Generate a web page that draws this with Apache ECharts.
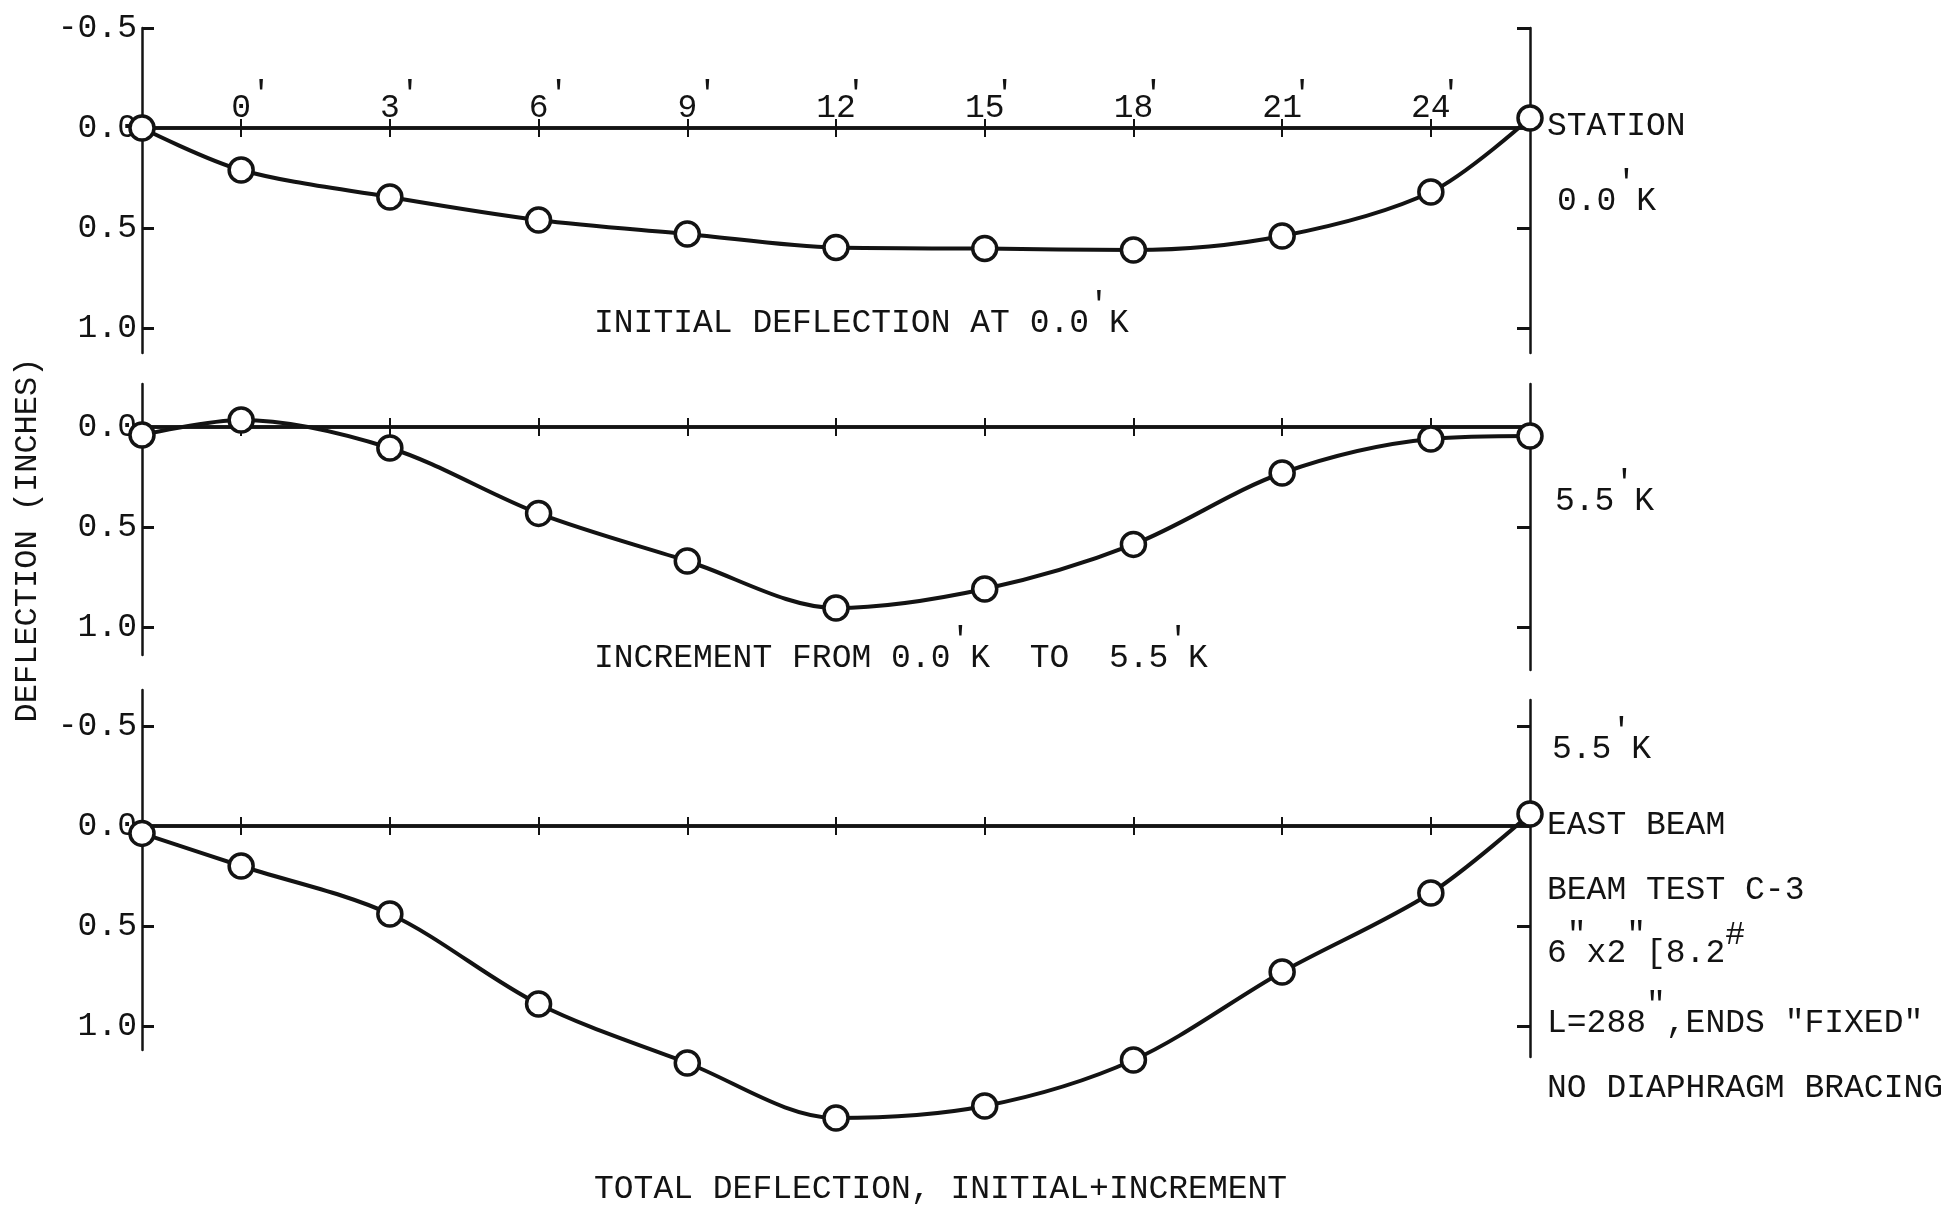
<!DOCTYPE html>
<html><head><meta charset="utf-8">
<script src="https://cdn.jsdelivr.net/npm/echarts@6/dist/echarts.min.js"></script>
<style>html,body{margin:0;padding:0;background:#fff}#c{width:1957px;height:1206px}</style>
</head><body><div id="c"></div>
<script>
// ---------- data ----------
const stations = [-2, 0, 3, 6, 9, 12, 15, 18, 21, 24, 26];   // ft (ends at the supports)
const stationTicks = [0, 3, 6, 9, 12, 15, 18, 21, 24];
const initialDefl   = [0.0, 0.21, 0.345, 0.46, 0.53, 0.598, 0.603, 0.61, 0.54, 0.32, -0.05];
const incrementDefl = [0.04, -0.035, 0.105, 0.432, 0.67, 0.905, 0.81, 0.587, 0.23, 0.06, 0.045];
const totalDefl     = [0.037, 0.20, 0.44, 0.89, 1.185, 1.46, 1.40, 1.17, 0.73, 0.335, -0.06];
const leftTicks1 = [-0.5, 0, 0.5, 1.0];
const leftTicks2 = [0, 0.5, 1.0];
const leftTicks3 = [-0.5, 0, 0.5, 1.0];
const rightTicks1 = [-0.5, 0.5, 1.0];
const rightTicks2 = [0.5, 1.0];
const rightTicks3 = [-0.5, 0.5, 1.0];

// ---------- layout / style ----------
const FONT = '"Liberation Mono", "DejaVu Sans Mono", monospace';
const FS = 33;
const INK = '#131313';
const PX = 200;          // pixels per inch of deflection
const GL = 142, GW = 1388;
const panels = [
  {data: initialDefl,   zeroY: 128, left: [-0.5, 1.125],  right: [-0.5, 1.125],  lt: leftTicks1, rt: rightTicks1, showX: true},
  {data: incrementDefl, zeroY: 427, left: [-0.215, 1.14], right: [-0.215, 1.215], lt: leftTicks2, rt: rightTicks2, showX: false},
  {data: totalDefl,     zeroY: 826, left: [-0.68, 1.12],  right: [-0.63, 1.155], lt: leftTicks3, rt: rightTicks3, showX: false}
];

function sup(s) { // '^' marks the next char as raised (typewriter prime)
  let out = '', buf = '';
  for (let i = 0; i < s.length; i++) {
    if (s[i] === '^') { if (buf) { out += '{n|' + buf + '}'; buf = ''; } out += '{p|' + s[i + 1] + '}'; i++; }
    else buf += s[i];
  }
  if (buf) out += '{n|' + buf + '}';
  return out;
}
const richG = {
  n: {fontFamily: FONT, fontSize: FS, lineHeight: 68, verticalAlign: 'middle', fill: INK},
  p: {fontFamily: FONT, fontSize: FS, lineHeight: 32, verticalAlign: 'top', fill: INK}
};

const grid = [], xAxis = [], yAxis = [], series = [];
panels.forEach((p, i) => {
  const gl = grid.length, gr = gl + 1;
  grid.push({left: GL, width: GW, top: p.zeroY + PX * p.left[0], height: PX * (p.left[1] - p.left[0]),
    containLabel: false, outerBoundsMode: 'none'});
  grid.push({left: GL, width: GW, top: p.zeroY + PX * p.right[0], height: PX * (p.right[1] - p.right[0]),
    containLabel: false, outerBoundsMode: 'none'});
  const yl = yAxis.length;
  yAxis.push({
    type: 'value', gridIndex: gl, inverse: true, min: p.left[0], max: p.left[1], position: 'left',
    axisLine: {show: true, onZero: false, lineStyle: {color: INK, width: 2.5}},
    axisTick: {show: true, inside: true, length: 12, customValues: p.lt, lineStyle: {color: INK, width: 3}},
    axisLabel: {show: true, customValues: p.lt, margin: 5, formatter: v => v.toFixed(1),
      fontFamily: FONT, fontSize: FS, color: INK, padding: [0, 0, 10, 0]},
    splitLine: {show: false}
  });
  yAxis.push({
    type: 'value', gridIndex: gr, inverse: true, min: p.right[0], max: p.right[1], position: 'right',
    axisLine: {show: true, onZero: false, lineStyle: {color: INK, width: 2.5}},
    axisTick: {show: true, inside: true, length: 13, customValues: p.rt, lineStyle: {color: INK, width: 3}},
    axisLabel: {show: false}, splitLine: {show: false}
  });
  const xi = xAxis.length;
  // baseline (zero line) with upward ticks
  xAxis.push({
    type: 'value', gridIndex: gl, min: -2, max: 26, position: 'top',
    axisLine: {show: true, onZero: true, onZeroAxisIndex: yl, lineStyle: {color: INK, width: 3.5}},
    axisTick: {show: true, inside: false, length: 9, customValues: stationTicks, lineStyle: {color: INK, width: 2}},
    axisLabel: {show: false}, splitLine: {show: false}
  });
  // downward ticks
  xAxis.push({
    type: 'value', gridIndex: gl, min: -2, max: 26, position: 'bottom',
    axisLine: {show: true, onZero: true, onZeroAxisIndex: yl, lineStyle: {color: INK, width: 3.5}},
    axisTick: {show: true, inside: false, length: 9, customValues: stationTicks, lineStyle: {color: INK, width: 2}},
    axisLabel: {show: false}, splitLine: {show: false}
  });
  xAxis.push({type: 'value', gridIndex: gr, min: -2, max: 26, show: false});
  yAxis.push({type: 'value', gridIndex: gr, show: false, min: 0, max: 1, axisLine: {onZero: false}});
  if (p.showX) {
    // label strip whose top edge sits on the zero line: station labels and their raised primes
    const gs = grid.length;
    grid.push({left: GL, width: GW, top: p.zeroY, height: 10, containLabel: false, outerBoundsMode: 'none'});
    yAxis.push({type: 'value', gridIndex: gs, show: false, min: 0, max: 1, axisLine: {onZero: false}});
    xAxis.push({
      type: 'value', gridIndex: gs, min: -2, max: 26, position: 'top',
      axisLine: {show: false, onZero: false}, axisTick: {show: false},
      axisLabel: {show: true, customValues: stationTicks, margin: 3, formatter: v => String(v),
        fontFamily: FONT, fontSize: FS, color: INK},
      splitLine: {show: false}
    });
    xAxis.push({
      type: 'value', gridIndex: gs, min: -2, max: 26, position: 'top',
      axisLine: {show: false, onZero: false}, axisTick: {show: false},
      axisLabel: {show: true, customValues: stationTicks, margin: 17, formatter: () => '\'',
        fontFamily: FONT, fontSize: FS, color: INK, padding: [0, 0, 0, 40]},
      splitLine: {show: false}
    });
  }
  series.push({
    type: 'line', xAxisIndex: xi, yAxisIndex: yl,
    data: stations.map((s, j) => [s, p.data[j]]),
    smooth: 0.32, clip: false, symbol: 'circle', symbolSize: 24, showAllSymbol: true,
    itemStyle: {color: '#fff', borderColor: INK, borderWidth: 3.5},
    lineStyle: {color: INK, width: 4}, z: 5
  });
});

function txt(s, x, y, align) {
  return {type: 'text', x: x, y: y, z: 10,
    style: {text: sup(s), fontFamily: FONT, fontSize: FS, fill: INK, align: align || 'left', verticalAlign: 'middle', rich: richG}};
}
const graphic = [
  txt('INITIAL DEFLECTION AT 0.0^\'K', 594, 323),
  txt('INCREMENT FROM 0.0^\'K  TO  5.5^\'K', 594, 658),
  txt('TOTAL DEFLECTION, INITIAL+INCREMENT', 594, 1189),
  txt('STATION', 1547, 126),
  txt('0.0^\'K', 1557, 201),
  txt('5.5^\'K', 1555, 501),
  txt('5.5^\'K', 1552, 749),
  txt('EAST BEAM', 1547, 825),
  txt('BEAM TEST C-3', 1547, 890),
  txt('6^"x2^"[8.2^#', 1547, 953),
  txt('L=288^",ENDS "FIXED"', 1547, 1023),
  txt('NO DIAPHRAGM BRACING', 1547, 1088),
  {type: 'text', x: 28, y: 540, rotation: Math.PI / 2, z: 10,
   style: {text: 'DEFLECTION (INCHES)', fontFamily: FONT, fontSize: 32, fill: INK, align: 'center', verticalAlign: 'middle'}}
];

const chart = echarts.init(document.getElementById('c'), null, {renderer: 'canvas'});
chart.setOption({
  animation: false, backgroundColor: '#fff',
  grid: grid, xAxis: xAxis, yAxis: yAxis, series: series, graphic: graphic
});
</script></body></html>
